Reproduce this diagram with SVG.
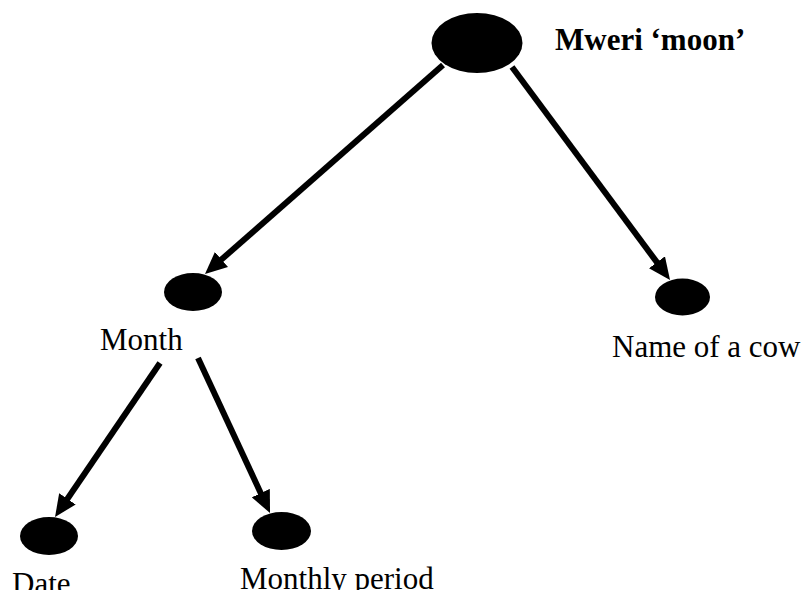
<svg xmlns="http://www.w3.org/2000/svg" width="807" height="590" viewBox="0 0 807 590">
  <style>
    .node { fill: #000; }
    .edge { stroke: #000; stroke-width: 6; fill: none; marker-end: url(#head); }
    .label { font-family: "Liberation Serif", "Times New Roman", serif; font-size: 31px; fill: #000; }
    .title { font-weight: bold; }
  </style>
  <defs>
    <marker id="head" markerUnits="userSpaceOnUse" viewBox="0 0 22 20" refX="2" refY="10" markerWidth="22" markerHeight="20" orient="auto">
      <path d="M0,0 L22,10 L0,20 Z" fill="#000"/>
    </marker>
  </defs>
  <rect width="807" height="590" fill="#fff"/>

  <g id="connectors">
    <line class="edge" x1="443" y1="65" x2="220" y2="260.8"/>
    <line class="edge" x1="512" y1="67" x2="658.1" y2="263.9"/>
    <line class="edge" x1="160" y1="363" x2="66.3" y2="500.5"/>
    <line class="edge" x1="198" y1="358" x2="261.6" y2="494.9"/>
  </g>

  <g id="mweri">
    <ellipse class="node" cx="477" cy="43" rx="45.5" ry="30"/>
    <text class="label title" x="555" y="50">Mweri ‘moon’</text>
  </g>
  <g id="month">
    <ellipse class="node" cx="193" cy="292" rx="29" ry="19"/>
    <text class="label" x="100" y="350">Month</text>
  </g>
  <g id="cow">
    <ellipse class="node" cx="682.5" cy="297" rx="27.5" ry="18.5"/>
    <text class="label" x="612" y="357">Name of a cow</text>
  </g>
  <g id="date">
    <ellipse class="node" cx="49" cy="536" rx="29" ry="19"/>
    <text class="label" x="12" y="594">Date</text>
  </g>
  <g id="monthly-period">
    <ellipse class="node" cx="281.5" cy="531" rx="29.5" ry="19"/>
    <text class="label" x="240" y="589">Monthly period</text>
  </g>
</svg>
